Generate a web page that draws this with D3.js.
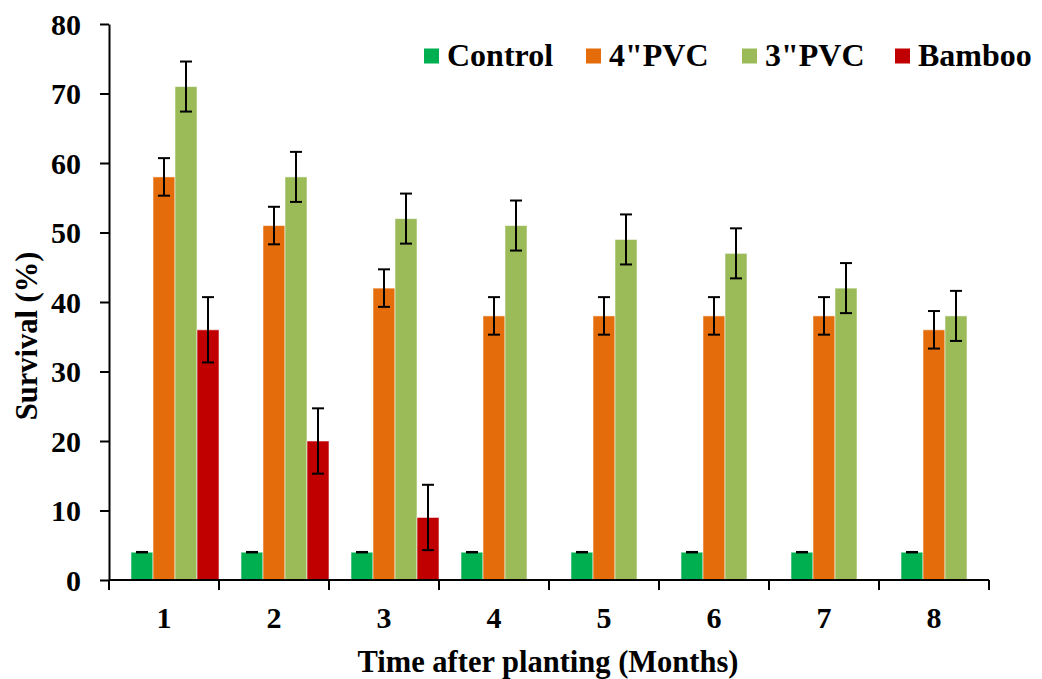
<!DOCTYPE html>
<html>
<head>
<meta charset="utf-8">
<script src="https://cdn.jsdelivr.net/npm/d3@7"></script>
<style>
  html, body { margin: 0; padding: 0; background: #fff; }
  svg { display: block; }
  text { font-family: "Liberation Serif", "Times New Roman", serif; font-weight: bold; fill: #000; }
</style>
</head>
<body>
<svg id="chart" width="1042" height="679"></svg>
<script>
const months = ["1", "2", "3", "4", "5", "6", "7", "8"];
const seriesNames = ["Control", "4\"PVC", "3\"PVC", "Bamboo"];
const seriesColors = ["#00B050", "#E46C0A", "#9BBB59", "#C00000"];
const controlValues = [4, 4, 4, 4, 4, 4, 4, 4];
const pvc4Values = [58, 51, 42, 38, 38, 38, 38, 36];
const pvc3Values = [71, 58, 52, 51, 49, 47, 42, 38];
const bambooValues = [36, 20, 9, null, null, null, null, null];
const controlErrors = [0, 0, 0, 0, 0, 0, 0, 0];
const pvc4Errors = [2.7, 2.7, 2.7, 2.7, 2.7, 2.7, 2.7, 2.7];
const pvc3Errors = [3.6, 3.6, 3.6, 3.6, 3.6, 3.6, 3.6, 3.6];
const bambooErrors = [4.7, 4.7, 4.7, null, null, null, null, null];
const yTicks = [0, 10, 20, 30, 40, 50, 60, 70, 80];

const allValues = [controlValues, pvc4Values, pvc3Values, bambooValues];
const allErrors = [controlErrors, pvc4Errors, pvc3Errors, bambooErrors];

const svg = d3.select("#chart");

const x0 = d3.scaleBand().domain(months).range([109, 989]).padding(0);
const bw = x0.bandwidth();
const x1 = d3.scaleBand().domain(seriesNames).range([bw * 0.2, bw]).padding(0);
const y = d3.scaleLinear().domain([0, 80]).range([580, 24]);

const rows = [];
months.forEach((m, i) => {
  seriesNames.forEach((s, j) => {
    const v = allValues[j][i];
    if (v !== null && v !== undefined) {
      rows.push({ month: m, series: s, color: seriesColors[j], value: v, err: allErrors[j][i] });
    }
  });
});

svg.append("g").selectAll("rect").data(rows).join("rect")
  .attr("x", d => x0(d.month) + x1(d.series))
  .attr("y", d => y(d.value))
  .attr("width", x1.bandwidth())
  .attr("height", d => y(0) - y(d.value))
  .attr("fill", d => d.color)
  .attr("stroke", "rgba(255,255,255,0.55)")
  .attr("stroke-width", 1);

const eb = svg.append("g").attr("stroke", "#000").attr("stroke-width", 2).attr("fill", "none");
const capW = 12;
rows.forEach(d => {
  const cx = x0(d.month) + x1(d.series) + x1.bandwidth() / 2;
  if (d.err > 0) {
    eb.append("line").attr("x1", cx).attr("x2", cx).attr("y1", y(d.value + d.err)).attr("y2", y(d.value - d.err));
    eb.append("line").attr("x1", cx - capW / 2).attr("x2", cx + capW / 2).attr("y1", y(d.value + d.err)).attr("y2", y(d.value + d.err));
    eb.append("line").attr("x1", cx - capW / 2).attr("x2", cx + capW / 2).attr("y1", y(d.value - d.err)).attr("y2", y(d.value - d.err));
  } else {
    eb.append("line").attr("x1", cx - capW / 2).attr("x2", cx + capW / 2).attr("y1", y(d.value)).attr("y2", y(d.value)).attr("stroke-width", 2.5);
  }
});

const yAxis = svg.append("g").attr("transform", "translate(109,0)")
  .call(d3.axisLeft(y).tickValues(yTicks).tickSize(9).tickPadding(19).tickSizeOuter(0));
yAxis.select(".domain").attr("stroke-width", 2);
yAxis.selectAll(".tick line").attr("stroke-width", 2);
yAxis.selectAll("text").style("font-size", "30px").attr("dy", "0.34em");

const xAxis = svg.append("g").attr("transform", "translate(0,580)");
xAxis.append("line").attr("x1", 109).attr("x2", 989).attr("y1", 0).attr("y2", 0)
  .attr("stroke", "#000").attr("stroke-width", 2);
const xBounds = months.map(m => x0(m)).concat([x0(months[months.length - 1]) + bw]);
xAxis.selectAll(".xt").data(xBounds).join("line")
  .attr("x1", d => d).attr("x2", d => d).attr("y1", 0).attr("y2", 10)
  .attr("stroke", "#000").attr("stroke-width", 2);
xAxis.selectAll(".xl").data(months).join("text")
  .attr("x", d => x0(d) + bw / 2).attr("y", 48)
  .attr("text-anchor", "middle").style("font-size", "30px").text(d => d);

svg.append("text").attr("x", 548).attr("y", 672).attr("text-anchor", "middle")
  .style("font-size", "30.5px").text("Time after planting (Months)");
svg.append("text").attr("transform", "translate(37,336) rotate(-90)").attr("text-anchor", "middle")
  .style("font-size", "30.5px").text("Survival (%)");

const legendX = [424, 586, 742, 895];
const lg = svg.append("g");
seriesNames.forEach((s, j) => {
  lg.append("rect").attr("x", legendX[j]).attr("y", 48.5).attr("width", 15).attr("height", 15).attr("fill", seriesColors[j]);
  lg.append("text").attr("x", legendX[j] + 23).attr("y", 66).style("font-size", "32px").text(s);
});
</script>
</body>
</html>
